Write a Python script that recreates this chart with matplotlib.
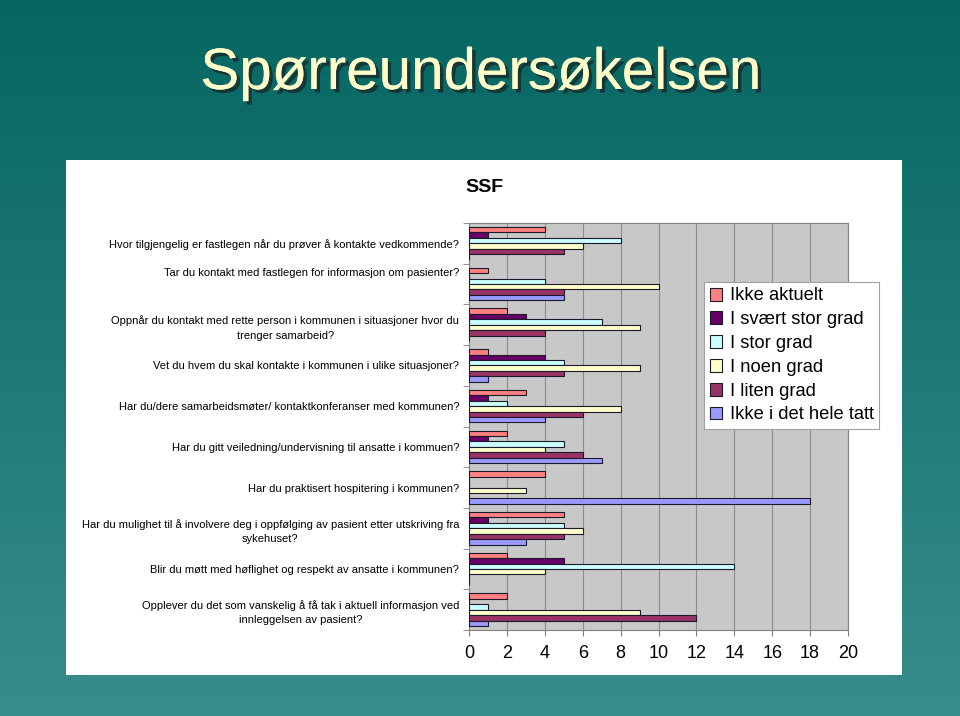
import numpy as np
import matplotlib
matplotlib.use("Agg")
import matplotlib.pyplot as plt
from matplotlib.patches import Rectangle, Patch
import matplotlib.patheffects as pe

plt.rcParams['font.family'] = ['Liberation Sans', 'DejaVu Sans']

# questions, top to bottom
questions = [
    "Hvor tilgjengelig er fastlegen når du prøver å kontakte vedkommende?",
    "Tar du kontakt med fastlegen for informasjon om pasienter?\n\n",
    "Oppnår du kontakt med rette person i kommunen i situasjoner hvor du\ntrenger samarbeid?",
    "Vet du hvem du skal kontakte i kommunen i ulike situasjoner?",
    "Har du/dere samarbeidsmøter/ kontaktkonferanser med kommunen?",
    "Har du gitt veiledning/undervisning til ansatte i kommuen?",
    "Har du praktisert hospitering i kommunen?",
    "Har du mulighet til å involvere deg i oppfølging av pasient etter utskriving fra\nsykehuset?",
    "Blir du møtt med høflighet og respekt av ansatte i kommunen?",
    "Opplever du det som vanskelig å få tak i aktuell informasjon ved\ninnleggelsen av pasient?",
]

series_names = ["Ikke aktuelt", "I svært stor grad", "I stor grad",
                "I noen grad", "I liten grad", "Ikke i det hele tatt"]
ikke_aktuelt = [4, 1, 2, 1, 3, 2, 4, 5, 2, 2]
svaert_stor = [1, 0, 3, 4, 1, 1, 0, 1, 5, 0]
stor = [8, 4, 7, 5, 2, 5, 0, 5, 14, 1]
noen = [6, 10, 9, 9, 8, 4, 3, 6, 4, 9]
liten = [5, 5, 4, 5, 6, 6, 0, 5, 0, 12]
ikke_hele = [0, 5, 0, 1, 4, 7, 18, 3, 0, 1]
series = [ikke_aktuelt, svaert_stor, stor, noen, liten, ikke_hele]
colors = ["#ff8080", "#660066", "#ccffff", "#ffffcc", "#993366", "#9999ff"]

xticks = list(range(0, 21, 2))

W, H = 960, 716
fig = plt.figure(figsize=(W / 100, H / 100), dpi=100)

# teal gradient background
bg = fig.add_axes([0, 0, 1, 1], zorder=-10)
grad = np.linspace(0, 1, 256)[:, None]
top = np.array([0.02, 0.40, 0.38])
bot = np.array([0.22, 0.55, 0.55])
img = top + (bot - top) * grad[..., None]
bg.imshow(img, aspect='auto', extent=[0, 1, 0, 1])
bg.axis('off')

# white panel
fig.patches.append(Rectangle((66 / W, 1 - 675 / H), (902 - 66) / W, (675 - 160) / H,
                             transform=fig.transFigure, facecolor='white',
                             edgecolor='none', zorder=-5))

# slide title
fig.text(481 / W, 1 - 74 / H, "Spørreundersøkelsen", ha='center', va='center',
         fontsize=42, color='#ffffcc',
         family=['Liberation Sans Narrow', 'Liberation Sans', 'DejaVu Sans'],
         path_effects=[pe.withSimplePatchShadow(offset=(2.5, -2.5), shadow_rgbFace='#1a2a2a', alpha=0.8),
                       pe.Normal()])

fig.text(484 / W, 1 - 187 / H, "SSF", ha='center', va='center',
         fontsize=14, fontweight='bold', color='black')

ax = fig.add_axes([469 / W, 1 - 630 / H, (848 - 469) / W, (630 - 223) / H])
ax.set_facecolor('#c8c8c8')

n = len(series)
h = 0.8 / n
pos = np.arange(len(questions))
for j, (vals, name, c) in enumerate(zip(series, series_names, colors)):
    ax.barh(pos - 0.4 + h * (j + 0.5), vals, height=h, color=c,
            edgecolor='#1a1a2a', linewidth=0.8, label=name, zorder=3)

ax.set_xlim(0, 20)
ax.set_ylim(len(questions) - 0.5, -0.5)
ax.set_xticks(xticks)
ax.set_xticklabels([str(t) for t in xticks], fontsize=13)
ax.tick_params(axis='x', length=4, color='#808080', pad=7)
ax.xaxis.grid(True, color='#8c8c8c', linewidth=0.8, zorder=1)
ax.set_axisbelow(True)

ax.set_yticks(pos)
ax.set_yticklabels(questions, fontsize=8, multialignment='center', linespacing=1.55)
ax.tick_params(axis='y', which='major', length=0, pad=7)
ax.set_yticks(np.arange(-0.5, len(questions), 1), minor=True)
ax.tick_params(axis='y', which='minor', length=4, color='#808080')
for s in ax.spines.values():
    s.set_color('#808080')
    s.set_linewidth(0.8)

handles = [Patch(facecolor=c, edgecolor='#1a1a2a', linewidth=0.8) for c in colors]
leg = ax.legend(handles, series_names, loc='upper left',
                bbox_to_anchor=(704 / W, 1 - 282 / H), bbox_transform=fig.transFigure,
                borderaxespad=0, fontsize=13.2, fancybox=False, framealpha=1,
                edgecolor='#a0a0a0', handlelength=0.7, handleheight=0.7,
                handletextpad=0.4, labelspacing=0.37, borderpad=0.3)
leg.set_zorder(10)
leg.get_frame().set_linewidth(0.8)

fig.savefig("out.png", dpi=100)
